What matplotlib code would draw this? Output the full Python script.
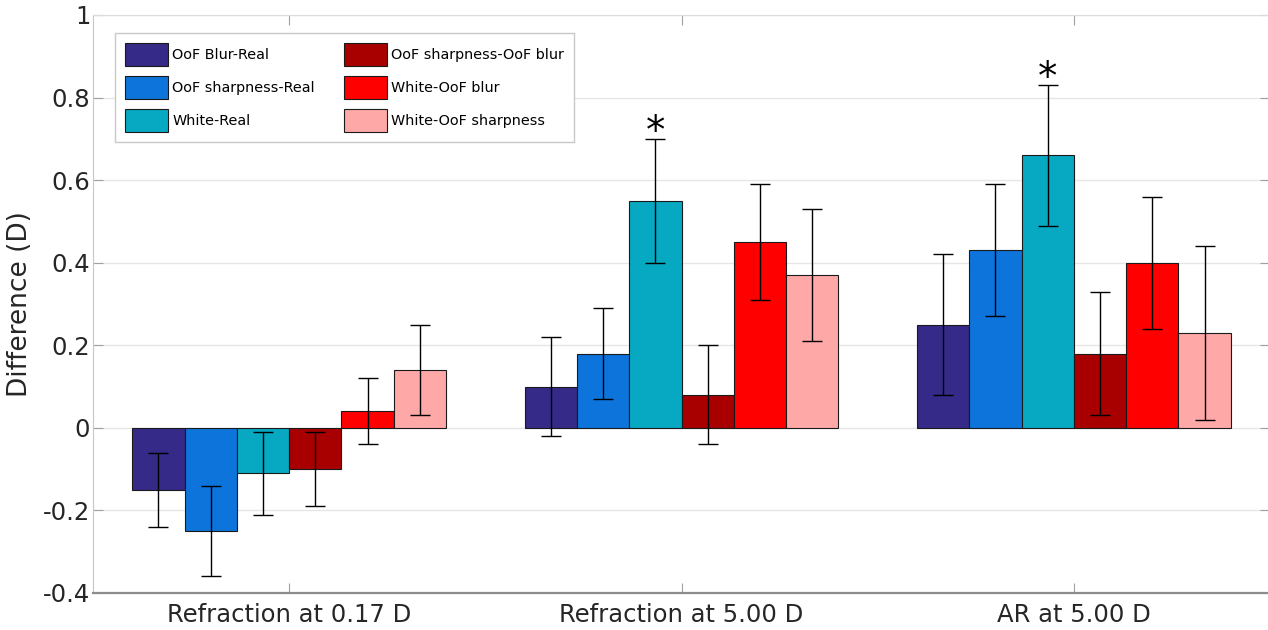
import numpy as np
import matplotlib
matplotlib.use('Agg')
import matplotlib.pyplot as plt

plt.rcParams['font.family'] = ['DejaVu Sans']
plt.rcParams['axes.unicode_minus'] = False

# Datos
grupos = ['Refraction at 0.17 D', 'Refraction at 5.00 D', 'AR at 5.00 D']
series = ['OoF Blur-Real', 'OoF sharpness-Real', 'White-Real',
          'OoF sharpness-OoF blur', 'White-OoF blur', 'White-OoF sharpness']
colores = ['#352A87', '#0D74DB', '#07A9C2', '#A80000', '#FF0000', '#FFA8A8']

oof_blur_real = [-0.15, 0.10, 0.25]
oof_sharp_real = [-0.25, 0.18, 0.43]
white_real = [-0.11, 0.55, 0.66]
oof_sharp_blur = [-0.10, 0.08, 0.18]
white_blur = [0.04, 0.45, 0.40]
white_sharp = [0.14, 0.37, 0.23]

err_oof_blur_real = [0.09, 0.12, 0.17]
err_oof_sharp_real = [0.11, 0.11, 0.16]
err_white_real = [0.10, 0.15, 0.17]
err_oof_sharp_blur = [0.09, 0.12, 0.15]
err_white_blur = [0.08, 0.14, 0.16]
err_white_sharp = [0.11, 0.16, 0.21]

medias = [oof_blur_real, oof_sharp_real, white_real, oof_sharp_blur, white_blur, white_sharp]
errores = [err_oof_blur_real, err_oof_sharp_real, err_white_real,
           err_oof_sharp_blur, err_white_blur, err_white_sharp]

# series y grupo con asterisco (White-Real en grupos 2 y 3)
signif = [(2, 1), (2, 2)]

# Canvas
fig = plt.figure(figsize=(12.68, 6.3), dpi=100)
ax = fig.add_axes([93/1268, 37/630, 1177/1268, 578/630])

x = np.arange(1, len(grupos) + 1)
n = len(series)
ancho = 0.8 / n

for i in range(n):
    pos = x + (i - (n - 1) / 2) * ancho
    ax.bar(pos, medias[i], width=ancho, color=colores[i], edgecolor='#1a1a1a',
           linewidth=0.8, label=series[i], zorder=2)
    ax.errorbar(pos, medias[i], yerr=errores[i], fmt='none', ecolor='black',
                elinewidth=1.0, capsize=7, capthick=1.0, zorder=3)

for i, g in signif:
    pos = x[g] + (i - (n - 1) / 2) * ancho
    ax.text(pos, medias[i][g] + errores[i][g] - 0.01, '*', ha='center', va='baseline',
            fontsize=28, color='black', zorder=6)

# Ejes
ax.set_xlim(0.5, 3.5)
ax.set_ylim(-0.4, 1)
ax.set_xticks(x)
ax.set_xticklabels(grupos)
yt = [-0.4, -0.2, 0, 0.2, 0.4, 0.6, 0.8, 1]
ax.set_yticks(yt)
ax.set_yticklabels(['-0.4', '-0.2', '0', '0.2', '0.4', '0.6', '0.8', '1'])
ax.tick_params(axis='both', direction='in', length=7, color='#a0a0a0',
               labelcolor='#262626', labelsize=17.5, top=True, right=True)
ax.tick_params(axis='y', pad=2)
ax.tick_params(axis='x', pad=7)
ax.grid(axis='y', color='#e6e6e6', linewidth=1, zorder=0)
ax.set_axisbelow(True)

ax.spines['bottom'].set_color('#8c8c8c')
ax.spines['bottom'].set_linewidth(1.6)
ax.spines['left'].set_color('#c8c8c8')
ax.spines['top'].set_color('#dcdcdc')
ax.spines['right'].set_color('#c8c8c8')

ax.set_ylabel('Difference (D)', fontsize=19, color='#262626')
ax.yaxis.set_label_coords(-0.051, 0.5)

# Leyenda
ley = ax.legend(ncol=2, loc='upper left', bbox_to_anchor=(115/1268, 1 - 33/630),
                bbox_transform=fig.transFigure, borderaxespad=0,
                prop={'size': 10.4},
                handlelength=3.0, handleheight=2.05, labelspacing=0.72,
                handletextpad=0.25, columnspacing=2.0, borderpad=0.7,
                fancybox=False, framealpha=1)
ley.get_frame().set_edgecolor('#c8c8c8')
ley.get_frame().set_linewidth(1)
ley.set_zorder(5)

plt.savefig('out.png', dpi=100)
